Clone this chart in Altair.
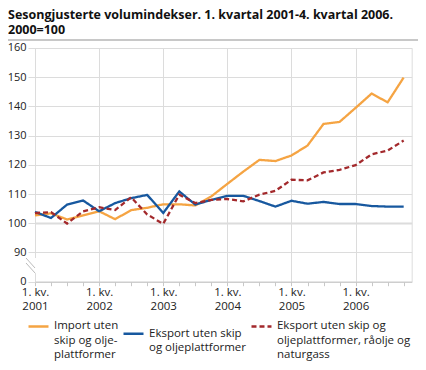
import altair as alt
import pandas as pd

# quarter index 0 = 1. kv. 2001 ... 23 = 4. kv. 2006
quarters = list(range(24))
years = [2001, 2002, 2003, 2004, 2005, 2006]

title_lines = ["Sesongjusterte volumindekser. 1. kvartal 2001-4. kvartal 2006.", "2000=100"]

series_names = [
    "Import uten|skip og olje-|plattformer",
    "Eksport uten skip|og oljeplattformer",
    "Eksport uten skip og|oljeplattformer, råolje og|naturgass",
]
series_colors = ["#f5a443", "#17589f", "#a3292c"]
series_dashes = [[1, 0], [1, 0], [5, 3]]

import_vals = [102.7, 103.4, 101.3, 102.7, 104.1, 101.4, 104.5, 105.3, 106.5, 106.5, 106.1, 109.2,
               113.5, 117.7, 121.7, 121.3, 123.2, 126.6, 134.0, 134.7, 139.5, 144.4, 141.4, 149.9]
eksport_vals = [103.9, 101.8, 106.4, 107.8, 104.1, 106.9, 108.6, 109.7, 103.5, 110.9, 106.4, 108.0,
                109.4, 109.4, 107.6, 105.7, 107.7, 106.7, 107.3, 106.6, 106.6, 105.9, 105.7, 105.7]
eksport_ex_olje_vals = [103.5, 103.8, 99.9, 104.1, 105.5, 104.5, 108.9, 103.0, 99.8, 109.8, 106.9, 108.0,
                        108.3, 107.5, 109.8, 111.1, 114.9, 114.7, 117.4, 118.3, 119.9, 123.6, 124.9, 128.3]

y_ticks = [80, 90, 100, 110, 120, 130, 140, 150, 160]

rows = []
for name, vals in zip(series_names, [import_vals, eksport_vals, eksport_ex_olje_vals]):
    for q, v in zip(quarters, vals):
        rows.append({"q": q, "v": v, "serie": name})
df = pd.DataFrame(rows)

FONT = "Open Sans"
GRID = "#dcdcdc"
W = 376.7
H = 233.7

year_expr = "datum.value % 4 === 0 ? ['1. kv.', '' + (2001 + datum.value / 4)] : ''"

legend_kw = dict(orient="none", legendX=-8, legendY=267, direction="horizontal",
                 columns=3, columnPadding=-1, symbolType="stroke",
                 symbolSize=400, symbolStrokeWidth=2.5, labelFont=FONT,
                 labelFontSize=11.5, labelColor="#222", labelOffset=4,
                 labelExpr="split(datum.label, '|')", labelLimit=200,
                 labelBaseline="middle", padding=0)

lines = alt.Chart(df).mark_line(strokeWidth=2.3).encode(
    x=alt.X("q:Q", title=None,
            scale=alt.Scale(domain=[0, 23.5], nice=False, zero=False),
            axis=alt.Axis(values=quarters, labelExpr=year_expr, labelOverlap=False,
                          labelFlush=False, labelBaseline="top", labelLineHeight=13.5,
                          labelPadding=1, labelFont=FONT, labelFontSize=11.5, labelColor="#222",
                          tickSize=4, tickColor="#c8c8c8", domainColor="#c8c8c8",
                          grid=True, gridColor=GRID,
                          gridOpacity={"condition": {"test": "datum.value % 4 === 0", "value": 1}, "value": 0})),
    y=alt.Y("v:Q", title=None,
            scale=alt.Scale(domain=[80, 160], nice=False, zero=False),
            axis=alt.Axis(values=y_ticks, labelExpr="datum.value === 80 ? '0' : datum.label",
                          labelFont=FONT, labelFontSize=11, labelColor="#222", labelPadding=2,
                          tickSize=7, tickColor=GRID, domain=False, grid=True, gridColor=GRID,
                          gridWidth={"condition": {"test": "datum.value === 100", "value": 2}, "value": 1})),
    color=alt.Color("serie:N", title=None,
                    scale=alt.Scale(domain=series_names, range=series_colors),
                    legend=alt.Legend(**legend_kw)),
    strokeDash=alt.StrokeDash("serie:N", title=None,
                              scale=alt.Scale(domain=series_names, range=series_dashes),
                              legend=alt.Legend(**legend_kw)),
)

one = alt.Data(values=[{"a": 1}])

# y-axis break decoration
gap = alt.Chart(one).mark_rule(color="white", strokeWidth=4).encode(
    x=alt.value(0), y=alt.value(210), y2=alt.value(225))
diag1 = alt.Chart(one).mark_rule(color="#bbbbbb", strokeWidth=1).encode(
    x=alt.value(-9), y=alt.value(210), x2=alt.value(0), y2=alt.value(220))
diag2 = alt.Chart(one).mark_rule(color="#bbbbbb", strokeWidth=1).encode(
    x=alt.value(-9), y=alt.value(215), x2=alt.value(0), y2=alt.value(225))
# title and the line under it
title_rule = alt.Chart(one).mark_rule(color="#c8c8c8", strokeWidth=2).encode(
    x=alt.value(-40), x2=alt.value(400), y=alt.value(-8))
title_text = alt.Chart(one).mark_text(
    text=title_lines, align="left", baseline="top", font=FONT, fontSize=12.5,
    fontWeight="bold", color="#111", lineHeight=15.5).encode(
    x=alt.value(-27), y=alt.value(-39))

chart = alt.layer(gap, diag1, diag2, lines, title_rule, title_text).properties(
    width=W, height=H,
    padding={"left": 27, "top": 40, "right": 6, "bottom": 80},
    autosize=alt.AutoSizeParams(type="none"),
).configure_view(stroke=None).configure(
    background="white", style={"guide-label": {"lineHeight": 14.5}})

chart.save("out.html", embed_options={"renderer": "svg", "actions": False})
